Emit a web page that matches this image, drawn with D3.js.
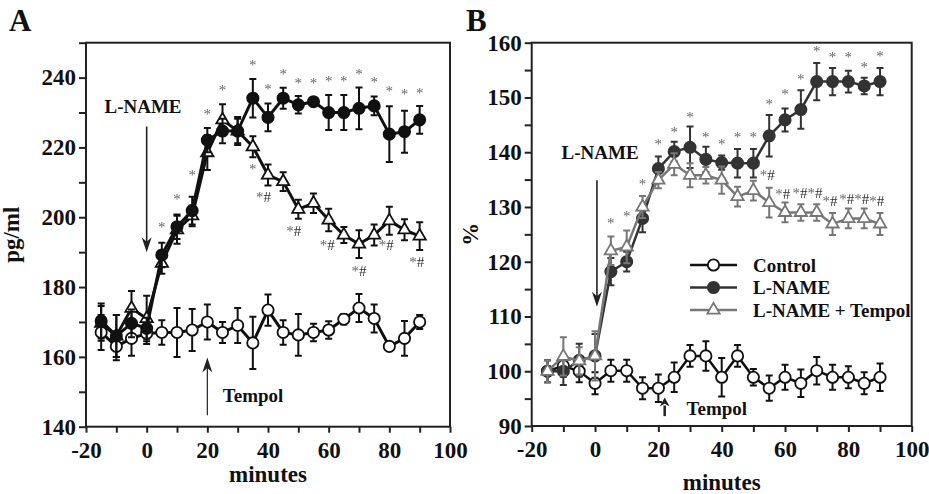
<!DOCTYPE html>
<html>
<head>
<meta charset="utf-8">
<script src="https://cdn.jsdelivr.net/npm/d3@7"></script>
<style>
  body { margin: 0; background: #fff; }
  text { font-family: "Liberation Serif", "Times New Roman", serif; font-weight: bold; }
</style>
</head>
<body>
<svg id="fig" width="929" height="494">
  <defs><filter id="grey"><feColorMatrix type="saturate" values="0"/></filter></defs>
</svg>
<script>
// sample times (minutes)
var minutes = [-15,-10,-5,0,5,10,15,20,25,30,35,40,45,50,55,60,65,70,75,80,85,90];

// panel A, pg/ml
var ctrlA    = [167,163,165.3,166.7,167,167,167.7,170,167,169,164,173.4,167,166.3,167,167.7,170.8,174,171,163,165.3,170];
var ctrlAErr = [5,4,5,3,3.5,7,6,5,3,5,7.5,4.5,3.5,6,2.5,2.5,1.5,4,4,1,5,2];
var lnameA    = [170.3,166,169.6,168.2,189.2,197.3,201.9,222.1,224.7,224.7,234.1,228.6,234.1,232.2,233.1,230,230,231.2,231.9,223.8,224.5,227.9];
var lnameAErr = [5,6,4,3,3.5,3.5,4,3.5,3.5,4,5.5,4,3,2.5,1,5,5,6,2.7,8,6,4];
var tempA    = [169.6,166,173.9,171,186.8,196.4,200.4,218.5,227.9,224.7,220.2,212.1,210.2,202.3,204,199.2,194.9,192.3,194.9,199,196.4,194.6];
var tempAErr = [5,6,5,6.5,3,4,3,5,4.5,3.5,3,3,2.7,2.7,2.8,3.2,2.3,4,3,4,3,4];

// panel B, %
var ctrlB    = [100,101,100,97.8,100.1,100.1,96.9,96.9,98.9,102.8,102.8,98.9,102.8,98.9,96.9,98.9,97.8,100.1,98.9,98.9,97.8,98.9];
var ctrlBErr = [2,2,2,2,2,2,2,2.5,2.7,2,2.7,3.5,2,1.5,2.3,2.3,2.5,2.5,2.3,2,2,2.5];
var lnameB    = [100,100,102,102.8,118.2,120,127.9,137,140.1,140.9,138.7,138.1,138,138,143,145.9,147.8,152.9,152.9,152.9,152.1,152.9];
var lnameBErr = [2,2.5,3,4,2.5,1.8,2.5,2.2,1.8,3.8,2.3,1.3,2.6,2.6,3.8,2.1,3.5,3.4,2.5,2,1.5,2.5];
var tempB    = [100,102.7,101.9,102.8,122,122.7,130,134.9,137.8,135.8,135.8,134.9,131.9,133,130.8,129,129,129,126.9,127.9,127.9,126.9];
var tempBErr = [2,3.5,2.5,4.5,2.6,3,2,1.5,2,2.2,1.5,2.5,1.8,1.8,2.7,1.8,1.5,1.5,2,1.8,1.8,2];

// significance marks
var starAx = [5,10,15,20,25,35,40,45,50,55,60,65,70,75,80,85,90];
var starAy = [197.3,205.1,212.1,229.6,236.5,243.6,236.7,241,238.4,238.4,238.9,238.9,241,238.6,236.3,235.3,235.7];
var hashAx = [35,38.5,48.5,59.5,70,79,89];
var hashAy = [213.7,205.9,196.2,192.1,184.7,192.1,187.3];
var hashAt = ["*","*#","*#","*#","*#","*#","*#"];
var starBx = [5,10,15,20,25,30,35,40,45,50,55,60,65,70,75,80,85,90];
var starBy = [127.1,128.3,134.2,141.5,143.7,146.5,142.8,141.5,142.8,142.8,148.8,150.7,153.3,158.4,157.3,157.3,155.6,157.6];
var hashBx = [54.4,59.3,64.7,69.5,74.2,79.5,84.2,89];
var hashBy = [135.8,132.4,132.5,132.5,131,131.4,131.4,131];

var legendNames = ["Control","L-NAME","L-NAME + Tempol"];

var svg = d3.select("#fig");

function drawPanel(p){
  var x = d3.scaleLinear().domain([-20,100]).range([p.left,p.right]);
  var y = d3.scaleLinear().domain(p.yDom).range([p.bottom,p.top]);
  var g = svg.append("g");

  // axes
  var xa = g.append("g").attr("transform","translate(0,"+p.bottom+")")
    .call(d3.axisBottom(x).tickValues(d3.range(-20,101,10))
      .tickFormat(d=> d%20==0 ? d : "").tickSize(6).tickPadding(9).tickSizeOuter(0));
  var ya = g.append("g").attr("transform","translate("+p.left+",0)")
    .call(d3.axisLeft(y).tickValues(d3.range(p.yDom[0],p.yDom[1]+0.1,p.yMinor))
      .tickFormat(d=> (d-p.yDom[0])%p.yMajor==0 && d<=p.yMaxLabel ? d : "").tickSize(7).tickPadding(3).tickSizeOuter(0));
  [xa,ya].forEach(function(a){
    a.select(".domain").remove();
    a.selectAll(".tick line").attr("stroke","#222").attr("stroke-width",2);
    a.selectAll("text").style("font-size","23px").attr("fill","#111");
  });

  g.append("rect").attr("x",p.left).attr("y",p.top)
    .attr("width",p.right-p.left).attr("height",p.bottom-p.top)
    .attr("fill","none").attr("stroke","#222").attr("stroke-width",2);

  g.append("text").attr("x",(p.left+p.right)/2).attr("y",p.xLabelY)
    .attr("text-anchor","middle").style("font-size","23px").attr("fill","#111").text("minutes");
  g.append("text").attr("transform","translate("+p.yLabelX+","+((p.top+p.bottom)/2)+") rotate(-90)")
    .attr("text-anchor","middle").style("font-size","23px").attr("fill","#111").text(p.yLabel);
  g.append("text").attr("x",p.letterX).attr("y",31).style("font-size","31px").attr("fill","#111").text(p.letter);

  // series
  p.series.forEach(function(s){
    var sg = g.append("g");
    sg.append("path").datum(s.vals)
      .attr("d", d3.line().x((d,i)=>x(minutes[i])).y(d=>y(d)))
      .attr("fill","none").attr("stroke",s.color).attr("stroke-width",s.lw);
    s.vals.forEach(function(v,i){
      var cx = x(minutes[i]), y1 = y(v+s.err[i]), y0 = y(v-s.err[i]);
      sg.append("path").attr("d","M"+cx+","+y0+"V"+y1+"M"+(cx-3.5)+","+y1+"h7M"+(cx-3.5)+","+y0+"h7")
        .attr("stroke",s.color).attr("stroke-width",2).attr("fill","none");
    });
    sg.selectAll(".m").data(s.vals).enter().append("path")
      .attr("transform",(d,i)=>"translate("+x(minutes[i])+","+y(d)+")")
      .attr("d", d3.symbol().type(s.shape).size(s.shape===d3.symbolTriangle?66:100))
      .attr("fill",s.fill).attr("stroke",s.color).attr("stroke-width",1.8);
  });

  // significance: grey asterisks, dark hashes (text); filter keeps them neutral grey
  var mg = g.append("g").attr("filter","url(#grey)");
  p.marks.forEach(function(m){
    m.xs.forEach(function(xv,i){
      var lab = m.labels ? m.labels[i] : m.text;
      var t = mg.append("text").attr("x",x(xv)).attr("y",y(m.ys[i])+5)
        .attr("text-anchor","middle").style("font-size","15px").style("font-weight","normal");
      lab.split("").forEach(function(ch){
        t.append("tspan").attr("fill", ch=="*" ? "#666" : "#333").text(ch);
      });
    });
  });

  // annotation arrows
  p.arrows.forEach(function(a){
    var ax = x(a.x), yt = y(a.from), yh = y(a.to);
    var dir = yh > yt ? 1 : -1;
    g.append("line").attr("x1",ax).attr("x2",ax).attr("y1",yt).attr("y2",yh-dir*8)
      .attr("stroke","#222").attr("stroke-width",a.lw);
    g.append("path")
      .attr("d","M"+ax+","+yh+"L"+(ax-a.hw)+","+(yh-dir*a.hl)+"L"+ax+","+(yh-dir*a.hl*0.7)+"L"+(ax+a.hw)+","+(yh-dir*a.hl)+"Z")
      .attr("fill","#222");
    g.append("text").attr("x",x(a.tx)).attr("y",y(a.ty)).attr("text-anchor",a.anchor)
      .attr("dominant-baseline","central").style("font-size","19px").attr("fill","#111").text(a.label);
  });

  if (p.legend){
    p.series.slice().sort((a,b)=>a.order-b.order).forEach(function(s,i){
      var ly = p.legend.y + i*22.5;
      g.append("line").attr("x1",p.legend.x).attr("x2",p.legend.x+47).attr("y1",ly).attr("y2",ly)
        .attr("stroke",s.color).attr("stroke-width",2.5);
      g.append("path").attr("transform","translate("+(p.legend.x+23.5)+","+ly+")")
        .attr("d", d3.symbol().type(s.shape).size(s.shape===d3.symbolTriangle?66:100))
        .attr("fill",s.fill).attr("stroke",s.color).attr("stroke-width",1.8);
      g.append("text").attr("x",p.legend.x+63).attr("y",ly).attr("dominant-baseline","central")
        .style("font-size","19px").attr("fill","#111").text(legendNames[s.order]);
    });
  }
}

drawPanel({
  left:86, right:450, top:42.7, bottom:426.7, yDom:[140,250], yMinor:10, yMajor:20, yMaxLabel:240,
  yLabel:"pg/ml", yLabelX:19, xLabelY:482, letter:"A", letterX:9,
  series:[
    {vals:ctrlA, err:ctrlAErr, color:"#111", fill:"#fff", shape:d3.symbolCircle, lw:3, order:0},
    {vals:tempA, err:tempAErr, color:"#111", fill:"#fff", shape:d3.symbolTriangle, lw:3, order:2},
    {vals:lnameA, err:lnameAErr, color:"#111", fill:"#111", shape:d3.symbolCircle, lw:3, order:1}
  ],
  marks:[{xs:starAx, ys:starAy, text:"*"}, {xs:hashAx, ys:hashAy, labels:hashAt}],
  arrows:[
    {x:0, from:226, to:190, lw:1.6, hw:5, hl:15, label:"L-NAME", tx:-1.2, ty:231.6, anchor:"middle"},
    {x:20, from:143.3, to:159.8, lw:1.2, hw:5, hl:15, label:"Tempol", tx:35.1, ty:148.9, anchor:"middle"}
  ]
});

drawPanel({
  left:531.7, right:911.7, top:42.7, bottom:426, yDom:[90,160], yMinor:5, yMajor:10, yMaxLabel:160,
  yLabel:"%", yLabelX:478, xLabelY:490, letter:"B", letterX:466,
  series:[
    {vals:ctrlB, err:ctrlBErr, color:"#111", fill:"#fff", shape:d3.symbolCircle, lw:2.5, order:0},
    {vals:lnameB, err:lnameBErr, color:"#333", fill:"#333", shape:d3.symbolCircle, lw:2.5, order:1},
    {vals:tempB, err:tempBErr, color:"#777", fill:"#fff", shape:d3.symbolTriangle, lw:2.5, order:2}
  ],
  marks:[{xs:starBx, ys:starBy, text:"*"}, {xs:hashBx, ys:hashBy, text:"*#"}],
  arrows:[
    {x:0.6, from:134.9, to:111.8, lw:1.6, hw:5, hl:15, label:"L-NAME", tx:1.6, ty:139.9, anchor:"middle"},
    {x:22, from:91.8, to:95.2, lw:2.5, hw:5, hl:9, label:"Tempol", tx:28.9, ty:93.2, anchor:"start"}
  ],
  legend:{x:690, y:265}
});
</script>
</body>
</html>
